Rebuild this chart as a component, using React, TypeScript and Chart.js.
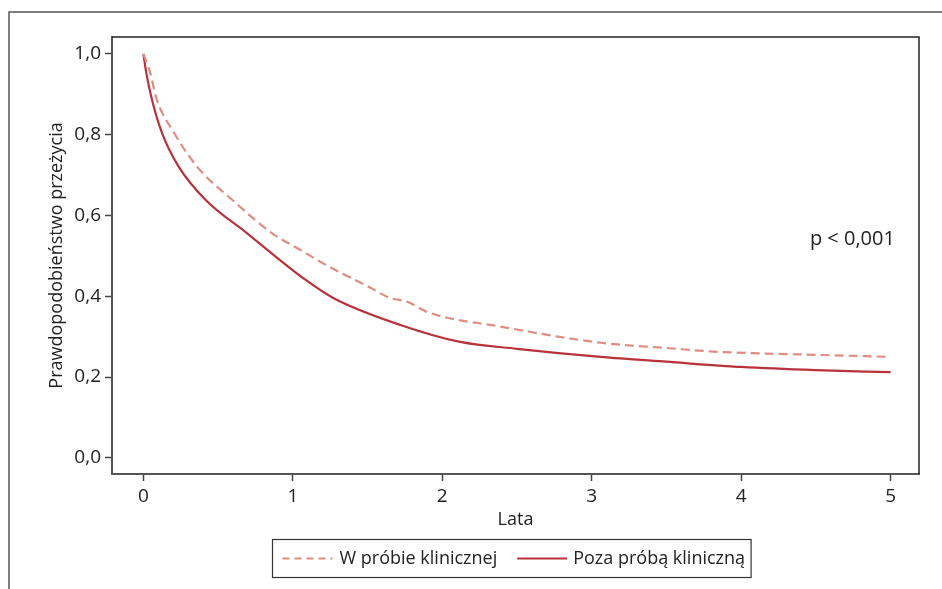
import { useEffect, useRef } from 'react';
import { Chart, registerables } from 'chart.js';

Chart.register(...registerables);

// ---- data ----
const xTickValues = [0, 1, 2, 3, 4, 5];
const yTickValues = [0, 0.2, 0.4, 0.6, 0.8, 1.0];

const seriesLabels = ['W próbie klinicznej', 'Poza próbą kliniczną'];

const trialYears = [0, 0.047, 0.087, 0.2, 0.359, 0.594, 0.861, 1.05, 1.163, 1.3, 1.5, 1.65, 1.77, 1.9, 2.39, 3.06, 3.5, 3.82, 4.5, 5.0];
const trialSurvival = [1.0, 0.952, 0.89, 0.808, 0.721, 0.639, 0.556, 0.515, 0.49, 0.462, 0.425, 0.396, 0.386, 0.361, 0.325, 0.285, 0.272, 0.263, 0.255, 0.25];

const outsideYears = [0, 0.02, 0.058, 0.125, 0.236, 0.415, 0.694, 1.084, 1.27, 1.72, 2.12, 2.5, 3.06, 3.5, 4.0, 4.5, 5.0];
const outsideSurvival = [1.0, 0.952, 0.886, 0.804, 0.721, 0.639, 0.556, 0.441, 0.396, 0.329, 0.287, 0.27, 0.25, 0.238, 0.225, 0.217, 0.212];

const xTitle = 'Lata';
const yTitle = 'Prawdopodobieństwo przeżycia';
const pValueText = 'p < 0,001';
const pValuePos = { x: 4.46, y: 0.54 };

// ---- styles ----
const FONT = "'Open Sans', 'Noto Sans', sans-serif";
const trialColor = '#de8d80';
const outsideColor = '#b8323b';
const trialDash = [9, 5];

const fmt = (v: number) => v.toFixed(1).replace('.', ',');

const decorPlugin = {
  id: 'decor',
  afterDraw(chart: any) {
    const { ctx, chartArea } = chart;
    ctx.save();
    // outer frame
    ctx.strokeStyle = '#555';
    ctx.lineWidth = 1.5;
    ctx.beginPath();
    ctx.moveTo(9, 589);
    ctx.lineTo(9, 12);
    ctx.lineTo(942, 12);
    ctx.stroke();
    // top and right border of plot
    ctx.strokeStyle = '#222';
    ctx.lineWidth = 1.5;
    ctx.beginPath();
    ctx.moveTo(chartArea.left, chartArea.top);
    ctx.lineTo(chartArea.right, chartArea.top);
    ctx.lineTo(chartArea.right, chartArea.bottom);
    ctx.stroke();

    // p-value
    const xs = chart.scales.x;
    const ys = chart.scales.y;
    ctx.fillStyle = '#222';
    ctx.font = `20px ${FONT}`;
    ctx.textBaseline = 'middle';
    ctx.textAlign = 'left';
    ctx.fillText(pValueText, xs.getPixelForValue(pValuePos.x), ys.getPixelForValue(pValuePos.y));

    // legend
    ctx.font = `18px ${FONT}`;
    const sample = 50;
    const t1 = ctx.measureText(seriesLabels[0]).width;
    const t2 = ctx.measureText(seriesLabels[1]).width;
    const boxW = 10 + sample + 7 + t1 + 20 + sample + 6 + t2 + 6;
    const boxH = 38;
    const boxX = Math.round(511 - boxW / 2) + 0.5;
    const boxY = 539.5;
    ctx.strokeStyle = '#333';
    ctx.lineWidth = 1.2;
    ctx.strokeRect(boxX, boxY, boxW, boxH);
    const cy = boxY + boxH / 2;
    let cx = boxX + 10;
    ctx.lineWidth = 2;
    ctx.strokeStyle = trialColor;
    ctx.setLineDash([7, 5]);
    ctx.beginPath();
    ctx.moveTo(cx, cy);
    ctx.lineTo(cx + sample, cy);
    ctx.stroke();
    ctx.setLineDash([]);
    cx += sample + 7;
    ctx.fillText(seriesLabels[0], cx, cy);
    cx += t1 + 20;
    ctx.strokeStyle = outsideColor;
    ctx.beginPath();
    ctx.moveTo(cx, cy);
    ctx.lineTo(cx + sample, cy);
    ctx.stroke();
    cx += sample + 6;
    ctx.fillText(seriesLabels[1], cx, cy);
    ctx.restore();
  },
};

export default function App() {
  const ref = useRef<HTMLCanvasElement>(null);

  useEffect(() => {
    if (!ref.current) return;
    const chart = new Chart(ref.current, {
      type: 'line',
      data: {
        datasets: [
          {
            label: seriesLabels[0],
            data: trialYears.map((x, i) => ({ x, y: trialSurvival[i] })),
            borderColor: trialColor,
            borderWidth: 2.2,
            borderDash: trialDash,
            pointRadius: 0,
            cubicInterpolationMode: 'monotone',
            fill: false,
          },
          {
            label: seriesLabels[1],
            data: outsideYears.map((x, i) => ({ x, y: outsideSurvival[i] })),
            borderColor: outsideColor,
            borderWidth: 2.2,
            pointRadius: 0,
            cubicInterpolationMode: 'monotone',
            fill: false,
          },
        ],
      },
      options: {
        animation: false,
        responsive: false,
        devicePixelRatio: 1,
        layout: { padding: { top: 37, right: 23, left: 0, bottom: 0 } },
        plugins: {
          legend: { display: false },
          tooltip: { enabled: false },
        },
        scales: {
          x: {
            type: 'linear',
            min: -0.21,
            max: 5.19,
            afterFit: (s: any) => { s.height = 115; },
            afterBuildTicks: (s: any) => { s.ticks = xTickValues.map((v) => ({ value: v })); },
            grid: { display: true, drawOnChartArea: false, drawTicks: true, tickLength: 7, color: '#444', tickWidth: 1.5 },
            border: { display: true, color: '#555', width: 2 },
            ticks: { color: '#222', font: { family: FONT, size: 19 }, padding: 4, maxRotation: 0, callback: (v: any) => String(v) },
            title: { display: true, text: xTitle, color: '#222', font: { family: FONT, size: 18 }, padding: { bottom: 58, top: 0 } },
          },
          y: {
            type: 'linear',
            min: -0.04,
            max: 1.042,
            afterFit: (s: any) => { s.width = 112; },
            afterBuildTicks: (s: any) => { s.ticks = yTickValues.map((v) => ({ value: v })); },
            grid: { display: true, drawOnChartArea: false, drawTicks: true, tickLength: 7, color: '#444', tickWidth: 1.5 },
            border: { display: true, color: '#555', width: 2 },
            ticks: { color: '#222', font: { family: FONT, size: 19 }, padding: 4, callback: (v: any) => fmt(Number(v)) },
            title: { display: true, text: yTitle, color: '#222', font: { family: FONT, size: 18 }, padding: { top: 46, bottom: 0 } },
          },
        },
      },
      plugins: [decorPlugin],
    } as any);
    return () => chart.destroy();
  }, []);

  return (
    <div style={{ position: 'fixed', left: 0, top: 0, width: 942, height: 589, background: '#fff' }}>
      <canvas ref={ref} width={942} height={589} />
    </div>
  );
}
